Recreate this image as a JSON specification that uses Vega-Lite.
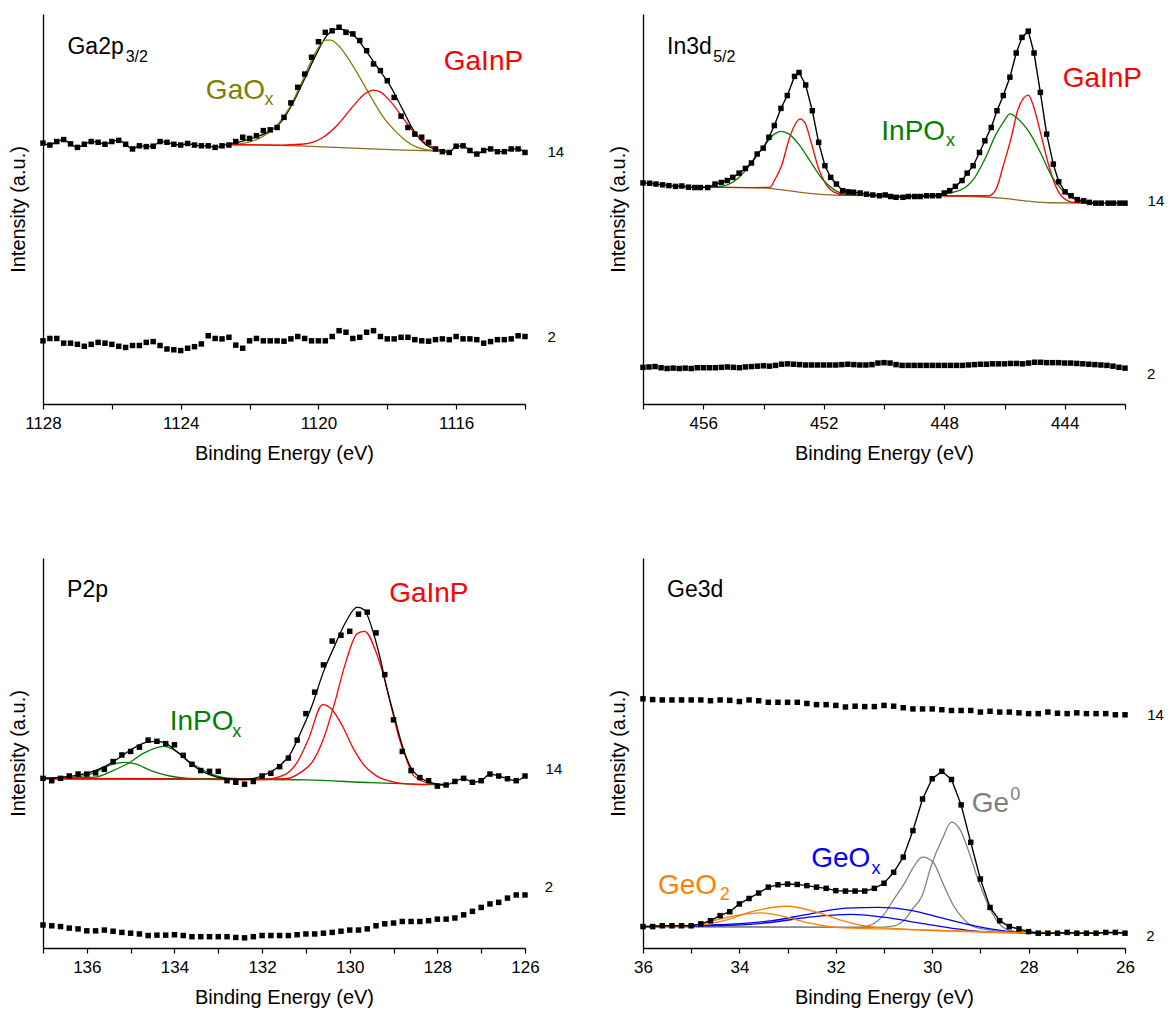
{
"$schema":"https://vega.github.io/schema/vega-lite/v6.json",
"padding":{"left":8,"top":14,"right":5,"bottom":5},
"config":{"view":{"stroke":null},"axis":{"domainColor":"#000","domainWidth":1.3,"tickColor":"#000","tickWidth":1.2,"tickSize":5,"labelFont":"Liberation Sans","labelFontSize":17,"labelColor":"#000","labelPadding":6,"labelFlush":false,"titleFont":"Liberation Sans","titleFontSize":20,"titleFontWeight":"normal","titleColor":"#000","titlePadding":12,"grid":false},"text":{"font":"Liberation Sans"}},
"columns":2,
"spacing":{"row":154,"column":118},
"bounds":"flush",
"resolve":{"scale":{"x":"independent","y":"independent"}},
"datasets":{
"p1pts":[
{"E":1128,"I":66.9,"s":"14"},{"E":1127.8,"I":66.4,"s":"14"},{"E":1127.6,"I":67.3,"s":"14"},{"E":1127.4,"I":67.8,"s":"14"},{"E":1127.2,"I":66.7,"s":"14"},{"E":1127,"I":65.8,"s":"14"},{"E":1126.8,"I":66.6,"s":"14"},{"E":1126.6,"I":67.3,"s":"14"},{"E":1126.4,"I":67.1,"s":"14"},{"E":1126.2,"I":66.6,"s":"14"},{"E":1126,"I":67.3,"s":"14"},{"E":1125.8,"I":67.6,"s":"14"},{"E":1125.6,"I":66.6,"s":"14"},{"E":1125.4,"I":65.4,"s":"14"},{"E":1125.2,"I":66.2,"s":"14"},{"E":1125,"I":66.0,"s":"14"},{"E":1124.8,"I":66.1,"s":"14"},{"E":1124.6,"I":67.3,"s":"14"},{"E":1124.4,"I":67.1,"s":"14"},{"E":1124.2,"I":66.6,"s":"14"},{"E":1124,"I":66.4,"s":"14"},{"E":1123.8,"I":66.8,"s":"14"},{"E":1123.6,"I":66.4,"s":"14"},{"E":1123.4,"I":66.2,"s":"14"},{"E":1123.2,"I":66.2,"s":"14"},{"E":1123,"I":65.8,"s":"14"},{"E":1122.8,"I":66.2,"s":"14"},{"E":1122.6,"I":66.4,"s":"14"},{"E":1122.4,"I":67.3,"s":"14"},{"E":1122.2,"I":68.4,"s":"14"},{"E":1122,"I":68.1,"s":"14"},{"E":1121.8,"I":68.8,"s":"14"},{"E":1121.6,"I":70.1,"s":"14"},{"E":1121.4,"I":70.3,"s":"14"},{"E":1121.2,"I":70.9,"s":"14"},{"E":1121,"I":73.5,"s":"14"},{"E":1120.8,"I":77.2,"s":"14"},{"E":1120.6,"I":81.2,"s":"14"},{"E":1120.4,"I":84.6,"s":"14"},{"E":1120.2,"I":88.9,"s":"14"},{"E":1120,"I":92.9,"s":"14"},{"E":1119.8,"I":95.3,"s":"14"},{"E":1119.6,"I":95.7,"s":"14"},{"E":1119.4,"I":96.6,"s":"14"},{"E":1119.2,"I":95.3,"s":"14"},{"E":1119,"I":94.9,"s":"14"},{"E":1118.8,"I":93.2,"s":"14"},{"E":1118.6,"I":90.6,"s":"14"},{"E":1118.4,"I":87.2,"s":"14"},{"E":1118.2,"I":85.5,"s":"14"},{"E":1118,"I":82.9,"s":"14"},{"E":1117.8,"I":78.6,"s":"14"},{"E":1117.6,"I":73.8,"s":"14"},{"E":1117.4,"I":70.9,"s":"14"},{"E":1117.2,"I":69.2,"s":"14"},{"E":1117,"I":68.4,"s":"14"},{"E":1116.8,"I":67.1,"s":"14"},{"E":1116.6,"I":65.4,"s":"14"},{"E":1116.4,"I":64.7,"s":"14"},{"E":1116.2,"I":64.5,"s":"14"},{"E":1116,"I":66.1,"s":"14"},{"E":1115.8,"I":66.2,"s":"14"},{"E":1115.6,"I":65.0,"s":"14"},{"E":1115.4,"I":64.1,"s":"14"},{"E":1115.2,"I":65.0,"s":"14"},{"E":1115,"I":65.4,"s":"14"},{"E":1114.8,"I":64.7,"s":"14"},{"E":1114.6,"I":64.7,"s":"14"},{"E":1114.4,"I":65.4,"s":"14"},{"E":1114.2,"I":65.4,"s":"14"},{"E":1114,"I":64.5,"s":"14"},
{"E":1128,"I":16.2,"s":"2"},{"E":1127.8,"I":16.8,"s":"2"},{"E":1127.6,"I":16.8,"s":"2"},{"E":1127.4,"I":15.6,"s":"2"},{"E":1127.2,"I":15.6,"s":"2"},{"E":1127,"I":15.3,"s":"2"},{"E":1126.8,"I":14.8,"s":"2"},{"E":1126.6,"I":15.3,"s":"2"},{"E":1126.4,"I":15.8,"s":"2"},{"E":1126.2,"I":15.6,"s":"2"},{"E":1126,"I":15.3,"s":"2"},{"E":1125.8,"I":14.8,"s":"2"},{"E":1125.6,"I":14.5,"s":"2"},{"E":1125.4,"I":15.0,"s":"2"},{"E":1125.2,"I":15.0,"s":"2"},{"E":1125,"I":15.8,"s":"2"},{"E":1124.8,"I":16.0,"s":"2"},{"E":1124.6,"I":15.0,"s":"2"},{"E":1124.4,"I":14.1,"s":"2"},{"E":1124.2,"I":13.9,"s":"2"},{"E":1124,"I":13.7,"s":"2"},{"E":1123.8,"I":14.3,"s":"2"},{"E":1123.6,"I":14.7,"s":"2"},{"E":1123.4,"I":15.4,"s":"2"},{"E":1123.2,"I":17.5,"s":"2"},{"E":1123,"I":16.8,"s":"2"},{"E":1122.8,"I":16.7,"s":"2"},{"E":1122.6,"I":17.1,"s":"2"},{"E":1122.4,"I":15.1,"s":"2"},{"E":1122.2,"I":14.3,"s":"2"},{"E":1122,"I":16.2,"s":"2"},{"E":1121.8,"I":16.8,"s":"2"},{"E":1121.6,"I":16.2,"s":"2"},{"E":1121.4,"I":16.2,"s":"2"},{"E":1121.2,"I":16.2,"s":"2"},{"E":1121,"I":16.1,"s":"2"},{"E":1120.8,"I":16.7,"s":"2"},{"E":1120.6,"I":17.3,"s":"2"},{"E":1120.4,"I":16.8,"s":"2"},{"E":1120.2,"I":16.2,"s":"2"},{"E":1120,"I":16.2,"s":"2"},{"E":1119.8,"I":16.2,"s":"2"},{"E":1119.6,"I":17.3,"s":"2"},{"E":1119.4,"I":18.8,"s":"2"},{"E":1119.2,"I":18.4,"s":"2"},{"E":1119,"I":16.8,"s":"2"},{"E":1118.8,"I":17.1,"s":"2"},{"E":1118.6,"I":18.4,"s":"2"},{"E":1118.4,"I":18.8,"s":"2"},{"E":1118.2,"I":17.3,"s":"2"},{"E":1118,"I":16.7,"s":"2"},{"E":1117.8,"I":16.7,"s":"2"},{"E":1117.6,"I":17.1,"s":"2"},{"E":1117.4,"I":17.1,"s":"2"},{"E":1117.2,"I":16.5,"s":"2"},{"E":1117,"I":16.2,"s":"2"},{"E":1116.8,"I":16.1,"s":"2"},{"E":1116.6,"I":16.5,"s":"2"},{"E":1116.4,"I":16.7,"s":"2"},{"E":1116.2,"I":16.5,"s":"2"},{"E":1116,"I":17.3,"s":"2"},{"E":1115.8,"I":16.7,"s":"2"},{"E":1115.6,"I":16.7,"s":"2"},{"E":1115.4,"I":16.5,"s":"2"},{"E":1115.2,"I":15.6,"s":"2"},{"E":1115,"I":16.0,"s":"2"},{"E":1114.8,"I":16.5,"s":"2"},{"E":1114.6,"I":16.5,"s":"2"},{"E":1114.4,"I":16.7,"s":"2"},{"E":1114.2,"I":17.5,"s":"2"},{"E":1114,"I":17.3,"s":"2"}
],
"p1lines":[
{"E":1128,"I":66.9,"c":"fit","k":"fit"},{"E":1127.8,"I":66.4,"c":"fit","k":"fit"},{"E":1127.6,"I":67.3,"c":"fit","k":"fit"},{"E":1127.4,"I":67.8,"c":"fit","k":"fit"},{"E":1127.2,"I":66.7,"c":"fit","k":"fit"},{"E":1127,"I":65.8,"c":"fit","k":"fit"},{"E":1126.8,"I":66.6,"c":"fit","k":"fit"},{"E":1126.6,"I":67.3,"c":"fit","k":"fit"},{"E":1126.4,"I":67.1,"c":"fit","k":"fit"},{"E":1126.2,"I":66.6,"c":"fit","k":"fit"},{"E":1126,"I":67.3,"c":"fit","k":"fit"},{"E":1125.8,"I":67.6,"c":"fit","k":"fit"},{"E":1125.6,"I":66.6,"c":"fit","k":"fit"},{"E":1125.4,"I":65.4,"c":"fit","k":"fit"},{"E":1125.2,"I":66.2,"c":"fit","k":"fit"},{"E":1125,"I":66.0,"c":"fit","k":"fit"},{"E":1124.8,"I":66.1,"c":"fit","k":"fit"},{"E":1124.6,"I":67.3,"c":"fit","k":"fit"},{"E":1124.4,"I":67.1,"c":"fit","k":"fit"},{"E":1124.2,"I":66.6,"c":"fit","k":"fit"},{"E":1124,"I":66.4,"c":"fit","k":"fit"},{"E":1123.8,"I":66.8,"c":"fit","k":"fit"},{"E":1123.6,"I":66.4,"c":"fit","k":"fit"},{"E":1123.4,"I":66.2,"c":"fit","k":"fit"},{"E":1123.2,"I":66.2,"c":"fit","k":"fit"},{"E":1123,"I":65.8,"c":"fit","k":"fit"},{"E":1122.8,"I":66.2,"c":"fit","k":"fit"},
{"E":1122.7,"I":66.5,"c":"fit","k":"fit"},{"E":1122.26,"I":67.3,"c":"fit","k":"fit"},{"E":1121.83,"I":68.4,"c":"fit","k":"fit"},{"E":1121.39,"I":70.1,"c":"fit","k":"fit"},{"E":1121.06,"I":72.6,"c":"fit","k":"fit"},{"E":1120.73,"I":77.4,"c":"fit","k":"fit"},{"E":1120.4,"I":83.4,"c":"fit","k":"fit"},{"E":1120.08,"I":89.4,"c":"fit","k":"fit"},{"E":1119.75,"I":94.5,"c":"fit","k":"fit"},{"E":1119.42,"I":96.2,"c":"fit","k":"fit"},{"E":1119.2,"I":95.8,"c":"fit","k":"fit"},{"E":1118.87,"I":93.6,"c":"fit","k":"fit"},{"E":1118.55,"I":89.7,"c":"fit","k":"fit"},{"E":1118.22,"I":85.5,"c":"fit","k":"fit"},{"E":1117.89,"I":81.2,"c":"fit","k":"fit"},{"E":1117.56,"I":75.6,"c":"fit","k":"fit"},{"E":1117.23,"I":70.1,"c":"fit","k":"fit"},{"E":1116.91,"I":66.7,"c":"fit","k":"fit"},{"E":1116.58,"I":65.2,"c":"fit","k":"fit"},{"E":1116.36,"I":64.8,"c":"fit","k":"fit"},
{"E":1116.2,"I":64.5,"c":"fit","k":"fit"},{"E":1116,"I":66.1,"c":"fit","k":"fit"},{"E":1115.8,"I":66.2,"c":"fit","k":"fit"},{"E":1115.6,"I":65.0,"c":"fit","k":"fit"},{"E":1115.4,"I":64.1,"c":"fit","k":"fit"},{"E":1115.2,"I":65.0,"c":"fit","k":"fit"},{"E":1115,"I":65.4,"c":"fit","k":"fit"},{"E":1114.8,"I":64.7,"c":"fit","k":"fit"},{"E":1114.6,"I":64.7,"c":"fit","k":"fit"},{"E":1114.4,"I":65.4,"c":"fit","k":"fit"},{"E":1114.2,"I":65.4,"c":"fit","k":"fit"},{"E":1114,"I":64.5,"c":"fit","k":"fit"},
{"E":1122.7,"I":66.5,"c":"bg","k":"bg"},{"E":1121.5,"I":66.4,"c":"bg","k":"bg"},{"E":1120.5,"I":66.2,"c":"bg","k":"bg"},{"E":1119.5,"I":65.8,"c":"bg","k":"bg"},{"E":1118.5,"I":65.4,"c":"bg","k":"bg"},{"E":1117.5,"I":65.1,"c":"bg","k":"bg"},{"E":1116.25,"I":64.8,"c":"bg","k":"bg"},
{"E":1122.7,"I":66.4,"c":"ox","k":"GaOx"},{"E":1122.15,"I":66.9,"c":"ox","k":"GaOx"},{"E":1121.61,"I":68.6,"c":"ox","k":"GaOx"},{"E":1121.17,"I":71.8,"c":"ox","k":"GaOx"},{"E":1120.84,"I":76.0,"c":"ox","k":"GaOx"},{"E":1120.51,"I":82.0,"c":"ox","k":"GaOx"},{"E":1120.18,"I":88.5,"c":"ox","k":"GaOx"},{"E":1119.91,"I":92.5,"c":"ox","k":"GaOx"},{"E":1119.8,"I":93.3,"c":"ox","k":"GaOx"},{"E":1119.64,"I":93.3,"c":"ox","k":"GaOx"},{"E":1119.42,"I":91.9,"c":"ox","k":"GaOx"},{"E":1119.09,"I":88.0,"c":"ox","k":"GaOx"},{"E":1118.77,"I":83.3,"c":"ox","k":"GaOx"},{"E":1118.44,"I":78.2,"c":"ox","k":"GaOx"},{"E":1118.11,"I":73.5,"c":"ox","k":"GaOx"},{"E":1117.78,"I":70.1,"c":"ox","k":"GaOx"},{"E":1117.46,"I":67.5,"c":"ox","k":"GaOx"},{"E":1117.13,"I":65.8,"c":"ox","k":"GaOx"},{"E":1116.69,"I":65.0,"c":"ox","k":"GaOx"},{"E":1116.47,"I":64.8,"c":"ox","k":"GaOx"},
{"E":1122.7,"I":66.5,"c":"gp","k":"GaInP"},{"E":1121.06,"I":66.4,"c":"gp","k":"GaInP"},{"E":1120.51,"I":66.6,"c":"gp","k":"GaInP"},{"E":1120.18,"I":67.1,"c":"gp","k":"GaInP"},{"E":1119.86,"I":68.4,"c":"gp","k":"GaInP"},{"E":1119.42,"I":71.8,"c":"gp","k":"GaInP"},{"E":1118.98,"I":76.5,"c":"gp","k":"GaInP"},{"E":1118.66,"I":79.5,"c":"gp","k":"GaInP"},{"E":1118.4,"I":80.5,"c":"gp","k":"GaInP"},{"E":1118.22,"I":80.1,"c":"gp","k":"GaInP"},{"E":1117.89,"I":77.4,"c":"gp","k":"GaInP"},{"E":1117.56,"I":73.5,"c":"gp","k":"GaInP"},{"E":1117.23,"I":69.7,"c":"gp","k":"GaInP"},{"E":1116.91,"I":67.1,"c":"gp","k":"GaInP"},{"E":1116.58,"I":65.4,"c":"gp","k":"GaInP"},{"E":1116.25,"I":64.8,"c":"gp","k":"GaInP"}
],
"p1lab":[
{"E":1127.29,"I":91.5,"t":"Ga2p","k":"name","r":"name"},{"E":1125.6,"I":89.0,"t":"3/2","k":"name","r":"nsub"},{"E":1123.27,"I":80.3,"t":"GaO","k":"GaOx","r":"sp"},{"E":1121.57,"I":78.0,"t":"x","k":"GaOx","r":"ssub"},{"E":1116.36,"I":87.6,"t":"GaInP","k":"GaInP","r":"sp"},{"E":1113.35,"I":64.5,"t":"14","k":"name","r":"side"},{"E":1113.35,"I":17.1,"t":"2","k":"name","r":"side"}
],
"p2pts":[
{"E":458.0,"I":56.7,"s":"14"},{"E":457.78,"I":56.6,"s":"14"},{"E":457.57,"I":56.4,"s":"14"},{"E":457.35,"I":56.2,"s":"14"},{"E":457.14,"I":56.0,"s":"14"},{"E":456.92,"I":55.8,"s":"14"},{"E":456.71,"I":55.9,"s":"14"},{"E":456.49,"I":55.6,"s":"14"},{"E":456.28,"I":55.5,"s":"14"},{"E":456.1,"I":55.5,"s":"14"},{"E":455.85,"I":55.5,"s":"14"},{"E":455.61,"I":56.4,"s":"14"},{"E":455.4,"I":56.8,"s":"14"},{"E":455.2,"I":57.3,"s":"14"},{"E":455.02,"I":58.1,"s":"14"},{"E":454.81,"I":59.2,"s":"14"},{"E":454.6,"I":60.4,"s":"14"},{"E":454.4,"I":61.8,"s":"14"},{"E":454.21,"I":64.1,"s":"14"},{"E":454.01,"I":65.6,"s":"14"},{"E":453.82,"I":68.4,"s":"14"},{"E":453.64,"I":71.4,"s":"14"},{"E":453.42,"I":75.8,"s":"14"},{"E":453.21,"I":79.1,"s":"14"},{"E":452.97,"I":84.0,"s":"14"},{"E":452.82,"I":85.0,"s":"14"},{"E":452.6,"I":81.8,"s":"14"},{"E":452.38,"I":75.2,"s":"14"},{"E":452.17,"I":67.1,"s":"14"},{"E":451.96,"I":61.1,"s":"14"},{"E":451.77,"I":58.1,"s":"14"},{"E":451.58,"I":56.4,"s":"14"},{"E":451.37,"I":54.7,"s":"14"},{"E":451.19,"I":54.4,"s":"14"},{"E":451.01,"I":54.3,"s":"14"},{"E":450.79,"I":54.1,"s":"14"},{"E":450.58,"I":53.8,"s":"14"},{"E":450.37,"I":53.6,"s":"14"},{"E":450.15,"I":53.4,"s":"14"},{"E":449.96,"I":53.6,"s":"14"},{"E":449.78,"I":53.2,"s":"14"},{"E":449.6,"I":53.0,"s":"14"},{"E":449.37,"I":53.0,"s":"14"},{"E":449.19,"I":53.2,"s":"14"},{"E":448.98,"I":53.2,"s":"14"},{"E":448.8,"I":53.2,"s":"14"},{"E":448.59,"I":53.4,"s":"14"},{"E":448.39,"I":53.4,"s":"14"},{"E":448.18,"I":53.4,"s":"14"},{"E":448.0,"I":54.1,"s":"14"},{"E":447.82,"I":54.7,"s":"14"},{"E":447.63,"I":55.8,"s":"14"},{"E":447.41,"I":57.3,"s":"14"},{"E":447.24,"I":59.2,"s":"14"},{"E":447.04,"I":61.1,"s":"14"},{"E":446.83,"I":64.5,"s":"14"},{"E":446.65,"I":67.5,"s":"14"},{"E":446.44,"I":70.9,"s":"14"},{"E":446.25,"I":75.2,"s":"14"},{"E":446.04,"I":79.1,"s":"14"},{"E":445.82,"I":83.8,"s":"14"},{"E":445.61,"I":90.0,"s":"14"},{"E":445.42,"I":94.0,"s":"14"},{"E":445.21,"I":95.6,"s":"14"},{"E":445.02,"I":90.0,"s":"14"},{"E":444.81,"I":79.9,"s":"14"},{"E":444.6,"I":69.2,"s":"14"},{"E":444.38,"I":61.5,"s":"14"},{"E":444.2,"I":57.0,"s":"14"},{"E":443.99,"I":54.4,"s":"14"},{"E":443.79,"I":53.4,"s":"14"},{"E":443.58,"I":52.4,"s":"14"},{"E":443.37,"I":52.1,"s":"14"},{"E":443.18,"I":51.7,"s":"14"},{"E":442.97,"I":51.5,"s":"14"},{"E":442.79,"I":51.5,"s":"14"},{"E":442.56,"I":51.5,"s":"14"},{"E":442.38,"I":51.5,"s":"14"},{"E":442.17,"I":51.5,"s":"14"},{"E":442.0,"I":51.5,"s":"14"},
{"E":458.0,"I":9.4,"s":"2"},{"E":457.8,"I":9.5,"s":"2"},{"E":457.6,"I":9.6,"s":"2"},{"E":457.4,"I":9.3,"s":"2"},{"E":457.2,"I":9.1,"s":"2"},{"E":457.0,"I":9.2,"s":"2"},{"E":456.8,"I":9.1,"s":"2"},{"E":456.6,"I":9.2,"s":"2"},{"E":456.4,"I":9.1,"s":"2"},{"E":456.2,"I":9.3,"s":"2"},{"E":456.0,"I":9.3,"s":"2"},{"E":455.8,"I":9.3,"s":"2"},{"E":455.6,"I":9.3,"s":"2"},{"E":455.4,"I":9.4,"s":"2"},{"E":455.2,"I":9.5,"s":"2"},{"E":455.0,"I":9.4,"s":"2"},{"E":454.8,"I":9.3,"s":"2"},{"E":454.6,"I":9.5,"s":"2"},{"E":454.4,"I":9.6,"s":"2"},{"E":454.2,"I":9.7,"s":"2"},{"E":454.0,"I":9.8,"s":"2"},{"E":453.8,"I":9.7,"s":"2"},{"E":453.6,"I":9.9,"s":"2"},{"E":453.4,"I":10.2,"s":"2"},{"E":453.2,"I":10.3,"s":"2"},{"E":453.0,"I":10.2,"s":"2"},{"E":452.8,"I":10.1,"s":"2"},{"E":452.6,"I":10.0,"s":"2"},{"E":452.4,"I":10.0,"s":"2"},{"E":452.2,"I":10.0,"s":"2"},{"E":452.0,"I":10.0,"s":"2"},{"E":451.8,"I":10.0,"s":"2"},{"E":451.6,"I":10.0,"s":"2"},{"E":451.4,"I":10.1,"s":"2"},{"E":451.2,"I":10.2,"s":"2"},{"E":451.0,"I":10.1,"s":"2"},{"E":450.8,"I":10.0,"s":"2"},{"E":450.6,"I":10.0,"s":"2"},{"E":450.4,"I":10.1,"s":"2"},{"E":450.2,"I":10.5,"s":"2"},{"E":450.0,"I":10.6,"s":"2"},{"E":449.8,"I":10.5,"s":"2"},{"E":449.6,"I":10.1,"s":"2"},{"E":449.4,"I":9.9,"s":"2"},{"E":449.2,"I":9.9,"s":"2"},{"E":449.0,"I":9.9,"s":"2"},{"E":448.8,"I":9.9,"s":"2"},{"E":448.6,"I":9.9,"s":"2"},{"E":448.4,"I":9.9,"s":"2"},{"E":448.2,"I":9.9,"s":"2"},{"E":448.0,"I":9.9,"s":"2"},{"E":447.8,"I":9.9,"s":"2"},{"E":447.6,"I":9.9,"s":"2"},{"E":447.4,"I":9.9,"s":"2"},{"E":447.2,"I":10.0,"s":"2"},{"E":447.0,"I":10.1,"s":"2"},{"E":446.8,"I":10.2,"s":"2"},{"E":446.6,"I":10.2,"s":"2"},{"E":446.4,"I":10.3,"s":"2"},{"E":446.2,"I":10.3,"s":"2"},{"E":446.0,"I":10.3,"s":"2"},{"E":445.8,"I":10.4,"s":"2"},{"E":445.6,"I":10.4,"s":"2"},{"E":445.4,"I":10.3,"s":"2"},{"E":445.2,"I":10.5,"s":"2"},{"E":445.0,"I":10.7,"s":"2"},{"E":444.8,"I":10.7,"s":"2"},{"E":444.6,"I":10.6,"s":"2"},{"E":444.4,"I":10.6,"s":"2"},{"E":444.2,"I":10.6,"s":"2"},{"E":444.0,"I":10.5,"s":"2"},{"E":443.8,"I":10.5,"s":"2"},{"E":443.6,"I":10.4,"s":"2"},{"E":443.4,"I":10.3,"s":"2"},{"E":443.2,"I":10.2,"s":"2"},{"E":443.0,"I":10.1,"s":"2"},{"E":442.8,"I":10.0,"s":"2"},{"E":442.6,"I":9.9,"s":"2"},{"E":442.4,"I":9.7,"s":"2"},{"E":442.2,"I":9.4,"s":"2"},{"E":442.0,"I":9.2,"s":"2"}
],
"p2lines":[
{"E":456.1,"I":55.6,"c":"bg","k":"bg"},{"E":454.5,"I":55.5,"c":"bg","k":"bg"},{"E":453.8,"I":55.3,"c":"bg","k":"bg"},{"E":453.0,"I":54.5,"c":"bg","k":"bg"},{"E":452.2,"I":53.8,"c":"bg","k":"bg"},{"E":451.5,"I":53.5,"c":"bg","k":"bg"},{"E":448.5,"I":53.4,"c":"bg","k":"bg"},{"E":447.0,"I":53.2,"c":"bg","k":"bg"},{"E":446.0,"I":52.7,"c":"bg","k":"bg"},{"E":445.2,"I":52.0,"c":"bg","k":"bg"},{"E":444.5,"I":51.6,"c":"bg","k":"bg"},{"E":443.0,"I":51.5,"c":"bg","k":"bg"},
{"E":456.1,"I":55.6,"c":"r1","k":"GaInP"},{"E":454.5,"I":55.5,"c":"r1","k":"GaInP"},{"E":453.77,"I":55.6,"c":"r1","k":"GaInP"},{"E":453.64,"I":57.3,"c":"r1","k":"GaInP"},{"E":453.4,"I":61.1,"c":"r1","k":"GaInP"},{"E":453.15,"I":67.9,"c":"r1","k":"GaInP"},{"E":452.97,"I":71.4,"c":"r1","k":"GaInP"},{"E":452.79,"I":73.1,"c":"r1","k":"GaInP"},{"E":452.63,"I":72.2,"c":"r1","k":"GaInP"},{"E":452.42,"I":67.1,"c":"r1","k":"GaInP"},{"E":452.17,"I":60.3,"c":"r1","k":"GaInP"},{"E":451.93,"I":56.4,"c":"r1","k":"GaInP"},{"E":451.68,"I":54.4,"c":"r1","k":"GaInP"},{"E":451.31,"I":53.6,"c":"r1","k":"GaInP"},{"E":450.8,"I":53.5,"c":"r1","k":"GaInP"},
{"E":456.1,"I":55.6,"c":"g1","k":"InPOx"},{"E":455.5,"I":55.7,"c":"g1","k":"InPOx"},{"E":454.87,"I":57.7,"c":"g1","k":"InPOx"},{"E":454.38,"I":62.0,"c":"g1","k":"InPOx"},{"E":454.01,"I":65.8,"c":"g1","k":"InPOx"},{"E":453.64,"I":69.2,"c":"g1","k":"InPOx"},{"E":453.42,"I":69.9,"c":"g1","k":"InPOx"},{"E":453.15,"I":69.2,"c":"g1","k":"InPOx"},{"E":452.79,"I":66.2,"c":"g1","k":"InPOx"},{"E":452.42,"I":61.9,"c":"g1","k":"InPOx"},{"E":452.05,"I":57.7,"c":"g1","k":"InPOx"},{"E":451.68,"I":55.1,"c":"g1","k":"InPOx"},{"E":451.31,"I":53.8,"c":"g1","k":"InPOx"},{"E":450.8,"I":53.5,"c":"g1","k":"InPOx"},
{"E":448.0,"I":53.4,"c":"r2","k":"GaInP"},{"E":446.53,"I":53.4,"c":"r2","k":"GaInP"},{"E":446.28,"I":55.1,"c":"r2","k":"GaInP"},{"E":446.04,"I":61.1,"c":"r2","k":"GaInP"},{"E":445.79,"I":67.9,"c":"r2","k":"GaInP"},{"E":445.55,"I":75.6,"c":"r2","k":"GaInP"},{"E":445.21,"I":79.2,"c":"r2","k":"GaInP"},{"E":445.06,"I":76.9,"c":"r2","k":"GaInP"},{"E":444.81,"I":69.7,"c":"r2","k":"GaInP"},{"E":444.56,"I":62.0,"c":"r2","k":"GaInP"},{"E":444.31,"I":56.0,"c":"r2","k":"GaInP"},{"E":444.07,"I":53.0,"c":"r2","k":"GaInP"},{"E":443.7,"I":51.7,"c":"r2","k":"GaInP"},{"E":443.0,"I":51.5,"c":"r2","k":"GaInP"},
{"E":448.5,"I":53.4,"c":"g2","k":"InPOx"},{"E":447.51,"I":54.7,"c":"g2","k":"InPOx"},{"E":447.02,"I":57.7,"c":"g2","k":"InPOx"},{"E":446.65,"I":62.8,"c":"g2","k":"InPOx"},{"E":446.28,"I":69.2,"c":"g2","k":"InPOx"},{"E":446.04,"I":72.2,"c":"g2","k":"InPOx"},{"E":445.82,"I":74.4,"c":"g2","k":"InPOx"},{"E":445.55,"I":73.1,"c":"g2","k":"InPOx"},{"E":445.18,"I":69.7,"c":"g2","k":"InPOx"},{"E":444.81,"I":64.5,"c":"g2","k":"InPOx"},{"E":444.44,"I":58.5,"c":"g2","k":"InPOx"},{"E":444.07,"I":54.7,"c":"g2","k":"InPOx"},{"E":443.7,"I":52.6,"c":"g2","k":"InPOx"},{"E":443.2,"I":51.5,"c":"g2","k":"InPOx"}
],
"p2lab":[
{"E":457.2,"I":91.5,"t":"In3d","k":"name","r":"name"},{"E":455.67,"I":89.0,"t":"5/2","k":"name","r":"nsub"},{"E":450.09,"I":69.7,"t":"InPO","k":"InPOx","r":"sp"},{"E":447.94,"I":67.5,"t":"x","k":"InPOx","r":"ssub"},{"E":444.07,"I":83.3,"t":"GaInP","k":"GaInP","r":"sp"},{"E":441.25,"I":52.1,"t":"14","k":"name","r":"side"},{"E":441.27,"I":7.7,"t":"2","k":"name","r":"side"}
],
"p3pts":[
{"E":137,"I":43.5,"s":"14"},{"E":136.8,"I":42.9,"s":"14"},{"E":136.6,"I":43.5,"s":"14"},{"E":136.4,"I":44.1,"s":"14"},{"E":136.2,"I":44.6,"s":"14"},{"E":136,"I":44.6,"s":"14"},{"E":135.8,"I":44.9,"s":"14"},{"E":135.6,"I":45.8,"s":"14"},{"E":135.4,"I":47.8,"s":"14"},{"E":135.2,"I":49.5,"s":"14"},{"E":135,"I":50.4,"s":"14"},{"E":134.8,"I":51.5,"s":"14"},{"E":134.6,"I":53.3,"s":"14"},{"E":134.4,"I":53.0,"s":"14"},{"E":134.2,"I":52.4,"s":"14"},{"E":134,"I":52.1,"s":"14"},{"E":133.8,"I":49.4,"s":"14"},{"E":133.6,"I":47.1,"s":"14"},{"E":133.4,"I":45.5,"s":"14"},{"E":133.2,"I":45.3,"s":"14"},{"E":133,"I":45.3,"s":"14"},{"E":132.8,"I":42.9,"s":"14"},{"E":132.6,"I":42.5,"s":"14"},{"E":132.4,"I":42.0,"s":"14"},{"E":132.2,"I":42.7,"s":"14"},{"E":132,"I":44.1,"s":"14"},{"E":131.8,"I":44.8,"s":"14"},{"E":131.6,"I":46.5,"s":"14"},{"E":131.4,"I":48.7,"s":"14"},{"E":131.2,"I":53.3,"s":"14"},{"E":131,"I":60.1,"s":"14"},{"E":130.8,"I":65.6,"s":"14"},{"E":130.6,"I":72.6,"s":"14"},{"E":130.4,"I":78.7,"s":"14"},{"E":130.2,"I":80.2,"s":"14"},{"E":130,"I":81.2,"s":"14"},{"E":129.8,"I":85.6,"s":"14"},{"E":129.6,"I":86.1,"s":"14"},{"E":129.4,"I":80.8,"s":"14"},{"E":129.2,"I":70.1,"s":"14"},{"E":129,"I":58.5,"s":"14"},{"E":128.8,"I":50.4,"s":"14"},{"E":128.6,"I":45.5,"s":"14"},{"E":128.4,"I":43.7,"s":"14"},{"E":128.2,"I":42.9,"s":"14"},{"E":128,"I":41.5,"s":"14"},{"E":127.8,"I":41.8,"s":"14"},{"E":127.6,"I":42.7,"s":"14"},{"E":127.4,"I":43.5,"s":"14"},{"E":127.2,"I":42.5,"s":"14"},{"E":127,"I":42.9,"s":"14"},{"E":126.8,"I":44.6,"s":"14"},{"E":126.6,"I":44.1,"s":"14"},{"E":126.4,"I":43.4,"s":"14"},{"E":126.2,"I":42.9,"s":"14"},{"E":126,"I":44.1,"s":"14"},
{"E":137,"I":5.9,"s":"2"},{"E":136.8,"I":5.7,"s":"2"},{"E":136.6,"I":5.5,"s":"2"},{"E":136.4,"I":5.1,"s":"2"},{"E":136.2,"I":4.9,"s":"2"},{"E":136,"I":4.4,"s":"2"},{"E":135.8,"I":4.4,"s":"2"},{"E":135.6,"I":4.6,"s":"2"},{"E":135.4,"I":4.3,"s":"2"},{"E":135.2,"I":4.0,"s":"2"},{"E":135,"I":3.8,"s":"2"},{"E":134.8,"I":3.6,"s":"2"},{"E":134.6,"I":3.2,"s":"2"},{"E":134.4,"I":3.3,"s":"2"},{"E":134.2,"I":3.3,"s":"2"},{"E":134,"I":3.4,"s":"2"},{"E":133.8,"I":3.2,"s":"2"},{"E":133.6,"I":2.9,"s":"2"},{"E":133.4,"I":2.9,"s":"2"},{"E":133.2,"I":2.9,"s":"2"},{"E":133,"I":2.9,"s":"2"},{"E":132.8,"I":2.9,"s":"2"},{"E":132.6,"I":2.7,"s":"2"},{"E":132.4,"I":2.6,"s":"2"},{"E":132.2,"I":2.9,"s":"2"},{"E":132,"I":3.2,"s":"2"},{"E":131.8,"I":3.2,"s":"2"},{"E":131.6,"I":3.2,"s":"2"},{"E":131.4,"I":3.2,"s":"2"},{"E":131.2,"I":3.4,"s":"2"},{"E":131,"I":3.6,"s":"2"},{"E":130.8,"I":3.6,"s":"2"},{"E":130.6,"I":3.8,"s":"2"},{"E":130.4,"I":4.0,"s":"2"},{"E":130.2,"I":4.3,"s":"2"},{"E":130,"I":4.6,"s":"2"},{"E":129.8,"I":4.6,"s":"2"},{"E":129.6,"I":4.9,"s":"2"},{"E":129.4,"I":5.7,"s":"2"},{"E":129.2,"I":6.2,"s":"2"},{"E":129,"I":6.4,"s":"2"},{"E":128.8,"I":6.8,"s":"2"},{"E":128.6,"I":6.8,"s":"2"},{"E":128.4,"I":6.8,"s":"2"},{"E":128.2,"I":7.0,"s":"2"},{"E":128,"I":7.4,"s":"2"},{"E":127.8,"I":7.4,"s":"2"},{"E":127.6,"I":7.7,"s":"2"},{"E":127.4,"I":8.5,"s":"2"},{"E":127.2,"I":9.4,"s":"2"},{"E":127,"I":10.4,"s":"2"},{"E":126.8,"I":11.3,"s":"2"},{"E":126.6,"I":11.7,"s":"2"},{"E":126.4,"I":12.8,"s":"2"},{"E":126.2,"I":13.6,"s":"2"},{"E":126,"I":13.6,"s":"2"}
],
"p3lines":[
{"E":137.0,"I":43.5,"c":"gbase","k":"InPOx"},{"E":133.0,"I":43.4,"c":"gbase","k":"InPOx"},{"E":131.0,"I":43.1,"c":"gbase","k":"InPOx"},{"E":129.5,"I":42.4,"c":"gbase","k":"InPOx"},{"E":128.5,"I":42.0,"c":"gbase","k":"InPOx"},{"E":127.8,"I":41.8,"c":"gbase","k":"InPOx"},
{"E":137.0,"I":43.5,"c":"gA","k":"InPOx"},{"E":135.83,"I":43.8,"c":"gA","k":"InPOx"},{"E":135.4,"I":45.5,"c":"gA","k":"InPOx"},{"E":135.06,"I":47.3,"c":"gA","k":"InPOx"},{"E":134.71,"I":49.9,"c":"gA","k":"InPOx"},{"E":134.24,"I":51.7,"c":"gA","k":"InPOx"},{"E":133.94,"I":50.3,"c":"gA","k":"InPOx"},{"E":133.6,"I":47.3,"c":"gA","k":"InPOx"},{"E":133.17,"I":44.7,"c":"gA","k":"InPOx"},{"E":132.83,"I":43.6,"c":"gA","k":"InPOx"},{"E":132.4,"I":43.4,"c":"gA","k":"InPOx"},{"E":131.5,"I":43.2,"c":"gA","k":"InPOx"},
{"E":137.0,"I":43.5,"c":"gB","k":"InPOx"},{"E":136.69,"I":43.6,"c":"gB","k":"InPOx"},{"E":136.26,"I":43.8,"c":"gB","k":"InPOx"},{"E":135.83,"I":44.9,"c":"gB","k":"InPOx"},{"E":135.49,"I":46.8,"c":"gB","k":"InPOx"},{"E":135.14,"I":47.6,"c":"gB","k":"InPOx"},{"E":134.89,"I":47.2,"c":"gB","k":"InPOx"},{"E":134.54,"I":45.5,"c":"gB","k":"InPOx"},{"E":134.11,"I":44.1,"c":"gB","k":"InPOx"},{"E":133.69,"I":43.5,"c":"gB","k":"InPOx"},{"E":133.17,"I":43.4,"c":"gB","k":"InPOx"},{"E":132.5,"I":43.4,"c":"gB","k":"InPOx"},
{"E":137.0,"I":43.4,"c":"rC","k":"GaInP"},{"E":134.0,"I":43.3,"c":"rC","k":"GaInP"},{"E":132.5,"I":43.2,"c":"rC","k":"GaInP"},{"E":131.97,"I":43.2,"c":"rC","k":"GaInP"},{"E":131.46,"I":44.6,"c":"rC","k":"GaInP"},{"E":131.2,"I":47.6,"c":"rC","k":"GaInP"},{"E":130.94,"I":53.6,"c":"rC","k":"GaInP"},{"E":130.62,"I":62.4,"c":"rC","k":"GaInP"},{"E":130.43,"I":61.4,"c":"rC","k":"GaInP"},{"E":130.17,"I":57.0,"c":"rC","k":"GaInP"},{"E":129.91,"I":51.0,"c":"rC","k":"GaInP"},{"E":129.66,"I":46.7,"c":"rC","k":"GaInP"},{"E":129.4,"I":44.2,"c":"rC","k":"GaInP"},{"E":129.06,"I":42.7,"c":"rC","k":"GaInP"},{"E":128.71,"I":42.1,"c":"rC","k":"GaInP"},{"E":128.2,"I":41.9,"c":"rC","k":"GaInP"},
{"E":137.0,"I":43.4,"c":"rD","k":"GaInP"},{"E":134.0,"I":43.3,"c":"rD","k":"GaInP"},{"E":132.0,"I":43.2,"c":"rD","k":"GaInP"},{"E":131.46,"I":43.4,"c":"rD","k":"GaInP"},{"E":131.11,"I":45.1,"c":"rD","k":"GaInP"},{"E":130.86,"I":47.6,"c":"rD","k":"GaInP"},{"E":130.6,"I":53.6,"c":"rD","k":"GaInP"},{"E":130.34,"I":63.0,"c":"rD","k":"GaInP"},{"E":130.09,"I":73.3,"c":"rD","k":"GaInP"},{"E":129.83,"I":80.6,"c":"rD","k":"GaInP"},{"E":129.66,"I":81.2,"c":"rD","k":"GaInP"},{"E":129.4,"I":75.9,"c":"rD","k":"GaInP"},{"E":129.23,"I":69.9,"c":"rD","k":"GaInP"},{"E":129.06,"I":62.2,"c":"rD","k":"GaInP"},{"E":128.89,"I":54.5,"c":"rD","k":"GaInP"},{"E":128.71,"I":48.5,"c":"rD","k":"GaInP"},{"E":128.54,"I":44.2,"c":"rD","k":"GaInP"},{"E":128.2,"I":42.3,"c":"rD","k":"GaInP"},{"E":127.86,"I":42.0,"c":"rD","k":"GaInP"},
{"E":137.0,"I":43.5,"c":"fit","k":"fit"},{"E":136.26,"I":44.2,"c":"fit","k":"fit"},{"E":135.74,"I":45.8,"c":"fit","k":"fit"},{"E":135.4,"I":47.7,"c":"fit","k":"fit"},{"E":135.01,"I":50.7,"c":"fit","k":"fit"},{"E":134.63,"I":52.8,"c":"fit","k":"fit"},{"E":134.41,"I":53.0,"c":"fit","k":"fit"},{"E":134.19,"I":52.4,"c":"fit","k":"fit"},{"E":133.94,"I":50.3,"c":"fit","k":"fit"},{"E":133.6,"I":47.0,"c":"fit","k":"fit"},{"E":133.17,"I":44.3,"c":"fit","k":"fit"},{"E":132.83,"I":43.4,"c":"fit","k":"fit"},{"E":132.4,"I":43.2,"c":"fit","k":"fit"},{"E":131.97,"I":44.3,"c":"fit","k":"fit"},{"E":131.63,"I":46.5,"c":"fit","k":"fit"},{"E":131.37,"I":49.5,"c":"fit","k":"fit"},{"E":131.11,"I":55.5,"c":"fit","k":"fit"},{"E":130.86,"I":62.2,"c":"fit","k":"fit"},{"E":130.6,"I":70.8,"c":"fit","k":"fit"},{"E":130.34,"I":77.6,"c":"fit","k":"fit"},{"E":130.09,"I":83.6,"c":"fit","k":"fit"},{"E":129.83,"I":87.4,"c":"fit","k":"fit"},{"E":129.66,"I":86.6,"c":"fit","k":"fit"},{"E":129.49,"I":81.9,"c":"fit","k":"fit"},{"E":129.32,"I":75.0,"c":"fit","k":"fit"},{"E":129.15,"I":66.5,"c":"fit","k":"fit"},{"E":128.97,"I":58.8,"c":"fit","k":"fit"},{"E":128.8,"I":51.9,"c":"fit","k":"fit"},{"E":128.63,"I":46.8,"c":"fit","k":"fit"},{"E":128.37,"I":43.5,"c":"fit","k":"fit"},{"E":128.11,"I":42.3,"c":"fit","k":"fit"},{"E":127.8,"I":41.8,"c":"fit","k":"fit"},{"E":127.6,"I":42.7,"c":"fit","k":"fit"},{"E":127.4,"I":43.5,"c":"fit","k":"fit"},{"E":127.2,"I":42.5,"c":"fit","k":"fit"},{"E":127.0,"I":42.9,"c":"fit","k":"fit"},{"E":126.8,"I":44.6,"c":"fit","k":"fit"},{"E":126.6,"I":44.1,"c":"fit","k":"fit"},{"E":126.4,"I":43.4,"c":"fit","k":"fit"},{"E":126.2,"I":42.9,"c":"fit","k":"fit"},{"E":126.0,"I":44.1,"c":"fit","k":"fit"}
],
"p3lab":[
{"E":136.45,"I":91.7,"t":"P2p","k":"name","r":"name"},{"E":129.1,"I":90.8,"t":"GaInP","k":"GaInP","r":"sp"},{"E":134.11,"I":57.9,"t":"InPO","k":"InPOx","r":"sp"},{"E":132.68,"I":55.3,"t":"x","k":"InPOx","r":"ssub"},{"E":125.53,"I":45.8,"t":"14","k":"name","r":"side"},{"E":125.55,"I":15.6,"t":"2","k":"name","r":"side"}
],
"p4pts":[
{"E":36,"I":63.9,"s":"14"},{"E":35.8,"I":63.7,"s":"14"},{"E":35.6,"I":63.6,"s":"14"},{"E":35.4,"I":63.6,"s":"14"},{"E":35.2,"I":63.6,"s":"14"},{"E":35,"I":63.6,"s":"14"},{"E":34.8,"I":63.6,"s":"14"},{"E":34.6,"I":63.4,"s":"14"},{"E":34.4,"I":63.6,"s":"14"},{"E":34.2,"I":63.5,"s":"14"},{"E":34,"I":63.2,"s":"14"},{"E":33.8,"I":63.6,"s":"14"},{"E":33.6,"I":63.4,"s":"14"},{"E":33.4,"I":63.0,"s":"14"},{"E":33.2,"I":63.0,"s":"14"},{"E":33,"I":63.0,"s":"14"},{"E":32.8,"I":63.0,"s":"14"},{"E":32.6,"I":62.7,"s":"14"},{"E":32.4,"I":62.4,"s":"14"},{"E":32.2,"I":62.4,"s":"14"},{"E":32,"I":62.2,"s":"14"},{"E":31.8,"I":61.8,"s":"14"},{"E":31.6,"I":62.0,"s":"14"},{"E":31.4,"I":61.9,"s":"14"},{"E":31.2,"I":61.9,"s":"14"},{"E":31,"I":62.2,"s":"14"},{"E":30.8,"I":62.0,"s":"14"},{"E":30.6,"I":61.6,"s":"14"},{"E":30.4,"I":61.3,"s":"14"},{"E":30.2,"I":61.3,"s":"14"},{"E":30,"I":61.3,"s":"14"},{"E":29.8,"I":61.1,"s":"14"},{"E":29.6,"I":60.9,"s":"14"},{"E":29.4,"I":60.9,"s":"14"},{"E":29.2,"I":60.9,"s":"14"},{"E":29,"I":60.5,"s":"14"},{"E":28.8,"I":60.7,"s":"14"},{"E":28.6,"I":60.5,"s":"14"},{"E":28.4,"I":60.5,"s":"14"},{"E":28.2,"I":60.3,"s":"14"},{"E":28,"I":60.1,"s":"14"},{"E":27.8,"I":60.1,"s":"14"},{"E":27.6,"I":60.5,"s":"14"},{"E":27.4,"I":60.2,"s":"14"},{"E":27.2,"I":60.1,"s":"14"},{"E":27,"I":60.3,"s":"14"},{"E":26.8,"I":60.1,"s":"14"},{"E":26.6,"I":60.1,"s":"14"},{"E":26.4,"I":60.1,"s":"14"},{"E":26.2,"I":59.8,"s":"14"},{"E":26,"I":59.8,"s":"14"},
{"E":36,"I":5.5,"s":"2"},{"E":35.8,"I":5.5,"s":"2"},{"E":35.6,"I":5.7,"s":"2"},{"E":35.4,"I":5.7,"s":"2"},{"E":35.2,"I":5.7,"s":"2"},{"E":35,"I":5.7,"s":"2"},{"E":34.8,"I":6.2,"s":"2"},{"E":34.6,"I":7.0,"s":"2"},{"E":34.4,"I":8.3,"s":"2"},{"E":34.2,"I":9.3,"s":"2"},{"E":34,"I":11.3,"s":"2"},{"E":33.8,"I":12.7,"s":"2"},{"E":33.6,"I":14.1,"s":"2"},{"E":33.4,"I":15.6,"s":"2"},{"E":33.2,"I":16.2,"s":"2"},{"E":33,"I":16.4,"s":"2"},{"E":32.8,"I":16.3,"s":"2"},{"E":32.6,"I":16.0,"s":"2"},{"E":32.4,"I":15.6,"s":"2"},{"E":32.2,"I":15.3,"s":"2"},{"E":32,"I":14.7,"s":"2"},{"E":31.8,"I":14.6,"s":"2"},{"E":31.6,"I":14.6,"s":"2"},{"E":31.4,"I":14.6,"s":"2"},{"E":31.2,"I":15.3,"s":"2"},{"E":31,"I":16.6,"s":"2"},{"E":30.8,"I":19.4,"s":"2"},{"E":30.6,"I":23.3,"s":"2"},{"E":30.4,"I":30.1,"s":"2"},{"E":30.2,"I":38.2,"s":"2"},{"E":30,"I":43.4,"s":"2"},{"E":29.8,"I":45.3,"s":"2"},{"E":29.6,"I":43.2,"s":"2"},{"E":29.4,"I":36.7,"s":"2"},{"E":29.2,"I":27.1,"s":"2"},{"E":29,"I":17.7,"s":"2"},{"E":28.8,"I":10.4,"s":"2"},{"E":28.6,"I":7.0,"s":"2"},{"E":28.4,"I":5.5,"s":"2"},{"E":28.2,"I":4.9,"s":"2"},{"E":28,"I":4.2,"s":"2"},{"E":27.8,"I":3.8,"s":"2"},{"E":27.6,"I":3.8,"s":"2"},{"E":27.4,"I":3.8,"s":"2"},{"E":27.2,"I":4.0,"s":"2"},{"E":27,"I":3.8,"s":"2"},{"E":26.8,"I":3.8,"s":"2"},{"E":26.6,"I":3.8,"s":"2"},{"E":26.4,"I":4.0,"s":"2"},{"E":26.2,"I":4.0,"s":"2"},{"E":26,"I":3.8,"s":"2"}
],
"p4lines":[
{"E":36,"I":5.5,"c":"ga","k":"Ge0"},{"E":31.17,"I":5.3,"c":"ga","k":"Ge0"},{"E":30.79,"I":5.7,"c":"ga","k":"Ge0"},{"E":30.56,"I":7.4,"c":"ga","k":"Ge0"},{"E":30.41,"I":10.0,"c":"ga","k":"Ge0"},{"E":30.21,"I":13.4,"c":"ga","k":"Ge0"},{"E":30.02,"I":21.1,"c":"ga","k":"Ge0"},{"E":29.79,"I":28.0,"c":"ga","k":"Ge0"},{"E":29.6,"I":32.3,"c":"ga","k":"Ge0"},{"E":29.41,"I":30.1,"c":"ga","k":"Ge0"},{"E":29.26,"I":25.4,"c":"ga","k":"Ge0"},{"E":29.03,"I":16.9,"c":"ga","k":"Ge0"},{"E":28.8,"I":10.0,"c":"ga","k":"Ge0"},{"E":28.57,"I":5.7,"c":"ga","k":"Ge0"},{"E":28.34,"I":4.4,"c":"ga","k":"Ge0"},{"E":28.03,"I":4.0,"c":"ga","k":"Ge0"},{"E":26,"I":3.8,"c":"ga","k":"Ge0"},
{"E":36,"I":5.5,"c":"gb","k":"Ge0"},{"E":31.63,"I":5.3,"c":"gb","k":"Ge0"},{"E":31.33,"I":5.7,"c":"gb","k":"Ge0"},{"E":31.02,"I":8.3,"c":"gb","k":"Ge0"},{"E":30.79,"I":12.6,"c":"gb","k":"Ge0"},{"E":30.56,"I":16.9,"c":"gb","k":"Ge0"},{"E":30.41,"I":20.3,"c":"gb","k":"Ge0"},{"E":30.2,"I":23.3,"c":"gb","k":"Ge0"},{"E":29.98,"I":22.0,"c":"gb","k":"Ge0"},{"E":29.79,"I":16.9,"c":"gb","k":"Ge0"},{"E":29.56,"I":10.9,"c":"gb","k":"Ge0"},{"E":29.41,"I":8.3,"c":"gb","k":"Ge0"},{"E":29.18,"I":5.7,"c":"gb","k":"Ge0"},{"E":28.87,"I":4.7,"c":"gb","k":"Ge0"},{"E":28.5,"I":4.2,"c":"gb","k":"Ge0"},{"E":26,"I":3.8,"c":"gb","k":"Ge0"},
{"E":36,"I":5.5,"c":"ba","k":"GeOx"},{"E":34.08,"I":6.2,"c":"ba","k":"GeOx"},{"E":33.32,"I":7.0,"c":"ba","k":"GeOx"},{"E":32.55,"I":8.7,"c":"ba","k":"GeOx"},{"E":31.79,"I":10.2,"c":"ba","k":"GeOx"},{"E":31.1,"I":10.4,"c":"ba","k":"GeOx"},{"E":30.41,"I":9.6,"c":"ba","k":"GeOx"},{"E":29.87,"I":7.9,"c":"ba","k":"GeOx"},{"E":29.1,"I":5.6,"c":"ba","k":"GeOx"},{"E":28.34,"I":4.2,"c":"ba","k":"GeOx"},{"E":27.57,"I":3.8,"c":"ba","k":"GeOx"},{"E":26,"I":3.8,"c":"ba","k":"GeOx"},
{"E":36,"I":5.5,"c":"bb","k":"GeOx"},{"E":34.08,"I":5.9,"c":"bb","k":"GeOx"},{"E":33.32,"I":6.6,"c":"bb","k":"GeOx"},{"E":32.55,"I":7.9,"c":"bb","k":"GeOx"},{"E":31.67,"I":8.6,"c":"bb","k":"GeOx"},{"E":31.02,"I":7.9,"c":"bb","k":"GeOx"},{"E":30.25,"I":6.4,"c":"bb","k":"GeOx"},{"E":29.49,"I":4.9,"c":"bb","k":"GeOx"},{"E":28.72,"I":4.0,"c":"bb","k":"GeOx"},{"E":27.57,"I":3.8,"c":"bb","k":"GeOx"},{"E":26,"I":3.8,"c":"bb","k":"GeOx"},
{"E":36,"I":5.5,"c":"oa","k":"GeO2"},{"E":34.85,"I":5.9,"c":"oa","k":"GeO2"},{"E":34.24,"I":7.3,"c":"oa","k":"GeO2"},{"E":33.78,"I":9.2,"c":"oa","k":"GeO2"},{"E":33.01,"I":10.7,"c":"oa","k":"GeO2"},{"E":32.4,"I":9.2,"c":"oa","k":"GeO2"},{"E":31.94,"I":7.3,"c":"oa","k":"GeO2"},{"E":31.4,"I":5.7,"c":"oa","k":"GeO2"},{"E":30.64,"I":4.9,"c":"oa","k":"GeO2"},{"E":29.49,"I":4.4,"c":"oa","k":"GeO2"},{"E":28.34,"I":4.0,"c":"oa","k":"GeO2"},{"E":26.04,"I":3.8,"c":"oa","k":"GeO2"},
{"E":36,"I":5.5,"c":"ob","k":"GeO2"},{"E":35.0,"I":5.7,"c":"ob","k":"GeO2"},{"E":34.54,"I":7.0,"c":"ob","k":"GeO2"},{"E":34.08,"I":8.3,"c":"ob","k":"GeO2"},{"E":33.55,"I":9.0,"c":"ob","k":"GeO2"},{"E":33.09,"I":8.1,"c":"ob","k":"GeO2"},{"E":32.55,"I":6.4,"c":"ob","k":"GeO2"},{"E":31.94,"I":5.2,"c":"ob","k":"GeO2"},{"E":31.02,"I":4.9,"c":"ob","k":"GeO2"},{"E":28.34,"I":4.0,"c":"ob","k":"GeO2"},{"E":26,"I":3.8,"c":"ob","k":"GeO2"}
],
"p4lab":[
{"E":35.5,"I":91.7,"t":"Ge3d","k":"name","r":"name"},{"E":29.18,"I":37.0,"t":"Ge","k":"Ge0","r":"sp"},{"E":28.38,"I":39.3,"t":"0","k":"Ge0","r":"ssub"},{"E":32.51,"I":22.8,"t":"GeO","k":"GeOx","r":"sp"},{"E":31.26,"I":20.3,"t":"x","k":"GeOx","r":"ssub"},{"E":35.69,"I":16.0,"t":"GeO","k":"GeO2","r":"sp"},{"E":34.41,"I":13.6,"t":"2","k":"GeO2","r":"ssub"},{"E":25.54,"I":59.8,"t":"14","k":"name","r":"side"},{"E":25.56,"I":3.0,"t":"2","k":"name","r":"side"}
]
},
"concat":[
{"width":482,"height":390,"layer":[
{"data":{"name":"p1lines"},"mark":{"type":"line","strokeWidth":1.3,"interpolate":"monotone"},"encoding":{"x":{"field":"E","type":"quantitative","scale":{"domain":[1128,1114],"nice":false,"zero":false},"axis":{"title":"Binding Energy (eV)","values":[1128,1126,1124,1122,1120,1118,1116,1114],"format":"d","labelExpr":"datum.value % 4 == 0 ? datum.label : ''","labelOverlap":false}},"y":{"field":"I","type":"quantitative","scale":{"domain":[0,100],"nice":false},"axis":{"title":"Intensity (a.u.)","ticks":false,"labels":false,"titlePadding":15}},"color":{"field":"k","type":"nominal","scale":{"domain":["fit","bg","GaOx","GaInP","InPOx","GeOx","GeO2","Ge0","name"],"range":["#000000","#8c6d1f","#808000","#ff0000","#008000","#0000ff","#ff8000","#808080","#000000"]},"legend":null},"detail":{"field":"c"}}},
{"data":{"name":"p1pts"},"mark":{"type":"point","shape":"square","filled":true,"size":30,"color":"#000","opacity":1},"encoding":{"x":{"field":"E","type":"quantitative"},"y":{"field":"I","type":"quantitative"}}},
{"data":{"name":"p1lab"},"transform":[{"filter":"datum.r == 'name'"}],"mark":{"type":"text","align":"left","baseline":"middle","fontSize":23},"encoding":{"x":{"field":"E","type":"quantitative"},"y":{"field":"I","type":"quantitative"},"text":{"field":"t"},"color":{"field":"k","type":"nominal","legend":null}}},
{"data":{"name":"p1lab"},"transform":[{"filter":"datum.r == 'nsub'"}],"mark":{"type":"text","align":"left","baseline":"middle","fontSize":16},"encoding":{"x":{"field":"E","type":"quantitative"},"y":{"field":"I","type":"quantitative"},"text":{"field":"t"},"color":{"field":"k","type":"nominal","legend":null}}},
{"data":{"name":"p1lab"},"transform":[{"filter":"datum.r == 'sp'"}],"mark":{"type":"text","align":"left","baseline":"middle","fontSize":28},"encoding":{"x":{"field":"E","type":"quantitative"},"y":{"field":"I","type":"quantitative"},"text":{"field":"t"},"color":{"field":"k","type":"nominal","legend":null}}},
{"data":{"name":"p1lab"},"transform":[{"filter":"datum.r == 'ssub'"}],"mark":{"type":"text","align":"left","baseline":"middle","fontSize":18},"encoding":{"x":{"field":"E","type":"quantitative"},"y":{"field":"I","type":"quantitative"},"text":{"field":"t"},"color":{"field":"k","type":"nominal","legend":null}}},
{"data":{"name":"p1lab"},"transform":[{"filter":"datum.r == 'side'"}],"mark":{"type":"text","align":"left","baseline":"middle","fontSize":15},"encoding":{"x":{"field":"E","type":"quantitative"},"y":{"field":"I","type":"quantitative"},"text":{"field":"t"},"color":{"field":"k","type":"nominal","legend":null}}}
]},
{"width":482,"height":390,"layer":[
{"data":{"name":"p2lines"},"mark":{"type":"line","strokeWidth":1.3,"interpolate":"monotone"},"encoding":{"x":{"field":"E","type":"quantitative","scale":{"domain":[458,442],"nice":false,"zero":false},"axis":{"title":"Binding Energy (eV)","values":[458,456,454,452,450,448,446,444,442],"format":"d","labelExpr":"datum.value % 4 == 0 ? datum.label : ''","labelOverlap":false}},"y":{"field":"I","type":"quantitative","scale":{"domain":[0,100],"nice":false},"axis":{"title":"Intensity (a.u.)","ticks":false,"labels":false,"titlePadding":15}},"color":{"field":"k","type":"nominal","scale":{"domain":["fit","bg","GaOx","GaInP","InPOx","GeOx","GeO2","Ge0","name"],"range":["#000000","#6e6a14","#808000","#ff0000","#008000","#0000ff","#ff8000","#808080","#000000"]},"legend":null},"detail":{"field":"c"}}},
{"data":{"name":"p2pts"},"transform":[{"filter":"datum.s == '14'"}],"mark":{"type":"line","color":"#000","strokeWidth":1.4},"encoding":{"x":{"field":"E","type":"quantitative"},"y":{"field":"I","type":"quantitative"}}},
{"data":{"name":"p2pts"},"mark":{"type":"point","shape":"square","filled":true,"size":30,"color":"#000","opacity":1},"encoding":{"x":{"field":"E","type":"quantitative"},"y":{"field":"I","type":"quantitative"}}},
{"data":{"name":"p2lab"},"transform":[{"filter":"datum.r == 'name'"}],"mark":{"type":"text","align":"left","baseline":"middle","fontSize":23},"encoding":{"x":{"field":"E","type":"quantitative"},"y":{"field":"I","type":"quantitative"},"text":{"field":"t"},"color":{"field":"k","type":"nominal","legend":null}}},
{"data":{"name":"p2lab"},"transform":[{"filter":"datum.r == 'nsub'"}],"mark":{"type":"text","align":"left","baseline":"middle","fontSize":16},"encoding":{"x":{"field":"E","type":"quantitative"},"y":{"field":"I","type":"quantitative"},"text":{"field":"t"},"color":{"field":"k","type":"nominal","legend":null}}},
{"data":{"name":"p2lab"},"transform":[{"filter":"datum.r == 'sp'"}],"mark":{"type":"text","align":"left","baseline":"middle","fontSize":28},"encoding":{"x":{"field":"E","type":"quantitative"},"y":{"field":"I","type":"quantitative"},"text":{"field":"t"},"color":{"field":"k","type":"nominal","legend":null}}},
{"data":{"name":"p2lab"},"transform":[{"filter":"datum.r == 'ssub'"}],"mark":{"type":"text","align":"left","baseline":"middle","fontSize":18},"encoding":{"x":{"field":"E","type":"quantitative"},"y":{"field":"I","type":"quantitative"},"text":{"field":"t"},"color":{"field":"k","type":"nominal","legend":null}}},
{"data":{"name":"p2lab"},"transform":[{"filter":"datum.r == 'side'"}],"mark":{"type":"text","align":"left","baseline":"middle","fontSize":15},"encoding":{"x":{"field":"E","type":"quantitative"},"y":{"field":"I","type":"quantitative"},"text":{"field":"t"},"color":{"field":"k","type":"nominal","legend":null}}}
]},
{"width":482,"height":390,"layer":[
{"data":{"name":"p3lines"},"mark":{"type":"line","strokeWidth":1.3,"interpolate":"monotone"},"encoding":{"x":{"field":"E","type":"quantitative","scale":{"domain":[137,126],"nice":false,"zero":false},"axis":{"title":"Binding Energy (eV)","values":[137,136,135,134,133,132,131,130,129,128,127,126],"format":"d","labelExpr":"datum.value % 2 == 0 ? datum.label : ''","labelOverlap":false}},"y":{"field":"I","type":"quantitative","scale":{"domain":[0,100],"nice":false},"axis":{"title":"Intensity (a.u.)","ticks":false,"labels":false,"titlePadding":15}},"color":{"field":"k","type":"nominal","scale":{"domain":["fit","bg","GaOx","GaInP","InPOx","GeOx","GeO2","Ge0","name"],"range":["#000000","#8c6d1f","#808000","#ff0000","#008000","#0000ff","#ff8000","#808080","#000000"]},"legend":null},"detail":{"field":"c"}}},
{"data":{"name":"p3pts"},"mark":{"type":"point","shape":"square","filled":true,"size":30,"color":"#000","opacity":1},"encoding":{"x":{"field":"E","type":"quantitative"},"y":{"field":"I","type":"quantitative"}}},
{"data":{"name":"p3lab"},"transform":[{"filter":"datum.r == 'name'"}],"mark":{"type":"text","align":"left","baseline":"middle","fontSize":23},"encoding":{"x":{"field":"E","type":"quantitative"},"y":{"field":"I","type":"quantitative"},"text":{"field":"t"},"color":{"field":"k","type":"nominal","legend":null}}},
{"data":{"name":"p3lab"},"transform":[{"filter":"datum.r == 'sp'"}],"mark":{"type":"text","align":"left","baseline":"middle","fontSize":28},"encoding":{"x":{"field":"E","type":"quantitative"},"y":{"field":"I","type":"quantitative"},"text":{"field":"t"},"color":{"field":"k","type":"nominal","legend":null}}},
{"data":{"name":"p3lab"},"transform":[{"filter":"datum.r == 'ssub'"}],"mark":{"type":"text","align":"left","baseline":"middle","fontSize":18},"encoding":{"x":{"field":"E","type":"quantitative"},"y":{"field":"I","type":"quantitative"},"text":{"field":"t"},"color":{"field":"k","type":"nominal","legend":null}}},
{"data":{"name":"p3lab"},"transform":[{"filter":"datum.r == 'side'"}],"mark":{"type":"text","align":"left","baseline":"middle","fontSize":15},"encoding":{"x":{"field":"E","type":"quantitative"},"y":{"field":"I","type":"quantitative"},"text":{"field":"t"},"color":{"field":"k","type":"nominal","legend":null}}}
]},
{"width":482,"height":390,"layer":[
{"data":{"name":"p4lines"},"mark":{"type":"line","strokeWidth":1.3,"interpolate":"monotone"},"encoding":{"x":{"field":"E","type":"quantitative","scale":{"domain":[36,26],"nice":false,"zero":false},"axis":{"title":"Binding Energy (eV)","values":[36,35,34,33,32,31,30,29,28,27,26],"format":"d","labelExpr":"datum.value % 2 == 0 ? datum.label : ''","labelOverlap":false}},"y":{"field":"I","type":"quantitative","scale":{"domain":[0,100],"nice":false},"axis":{"title":"Intensity (a.u.)","ticks":false,"labels":false,"titlePadding":15}},"color":{"field":"k","type":"nominal","scale":{"domain":["fit","bg","GaOx","GaInP","InPOx","GeOx","GeO2","Ge0","name"],"range":["#000000","#8c6d1f","#808000","#ff0000","#008000","#0000ff","#ff8000","#808080","#000000"]},"legend":null},"detail":{"field":"c"}}},
{"data":{"name":"p4pts"},"transform":[{"filter":"datum.s == '2'"}],"mark":{"type":"line","color":"#000","strokeWidth":1.4},"encoding":{"x":{"field":"E","type":"quantitative"},"y":{"field":"I","type":"quantitative"}}},
{"data":{"name":"p4pts"},"mark":{"type":"point","shape":"square","filled":true,"size":30,"color":"#000","opacity":1},"encoding":{"x":{"field":"E","type":"quantitative"},"y":{"field":"I","type":"quantitative"}}},
{"data":{"name":"p4lab"},"transform":[{"filter":"datum.r == 'name'"}],"mark":{"type":"text","align":"left","baseline":"middle","fontSize":23},"encoding":{"x":{"field":"E","type":"quantitative"},"y":{"field":"I","type":"quantitative"},"text":{"field":"t"},"color":{"field":"k","type":"nominal","legend":null}}},
{"data":{"name":"p4lab"},"transform":[{"filter":"datum.r == 'sp'"}],"mark":{"type":"text","align":"left","baseline":"middle","fontSize":28},"encoding":{"x":{"field":"E","type":"quantitative"},"y":{"field":"I","type":"quantitative"},"text":{"field":"t"},"color":{"field":"k","type":"nominal","legend":null}}},
{"data":{"name":"p4lab"},"transform":[{"filter":"datum.r == 'ssub'"}],"mark":{"type":"text","align":"left","baseline":"middle","fontSize":18},"encoding":{"x":{"field":"E","type":"quantitative"},"y":{"field":"I","type":"quantitative"},"text":{"field":"t"},"color":{"field":"k","type":"nominal","legend":null}}},
{"data":{"name":"p4lab"},"transform":[{"filter":"datum.r == 'side'"}],"mark":{"type":"text","align":"left","baseline":"middle","fontSize":15},"encoding":{"x":{"field":"E","type":"quantitative"},"y":{"field":"I","type":"quantitative"},"text":{"field":"t"},"color":{"field":"k","type":"nominal","legend":null}}}
]}
]
}
